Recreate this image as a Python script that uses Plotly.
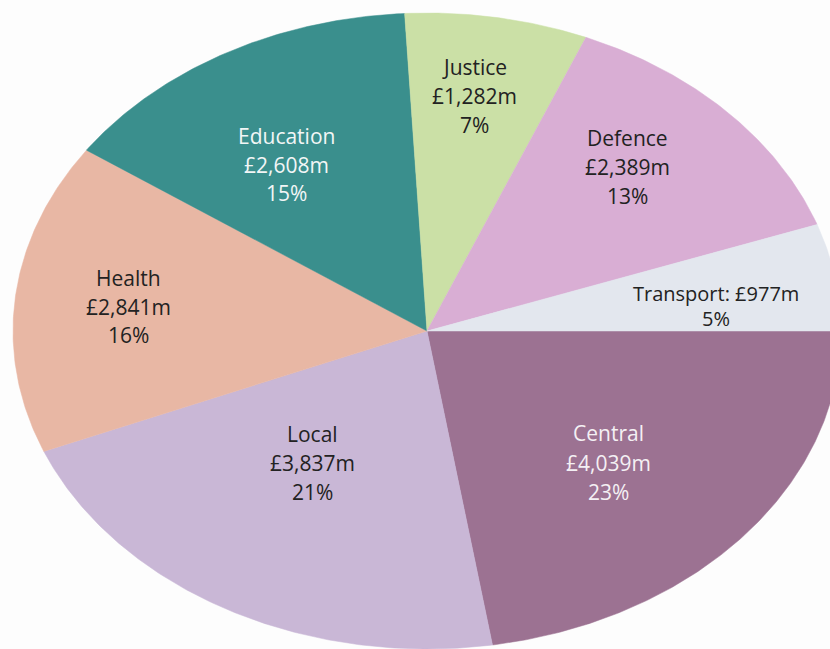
import numpy as np
import plotly.graph_objects as go

# ---- data ----
categories = ["Central", "Local", "Health", "Education", "Justice", "Defence", "Transport"]
values_m = [4039, 3837, 2841, 2608, 1282, 2389, 977]          # £ millions
percent_labels = [23, 21, 16, 15, 7, 13, 5]                    # as printed

# ---- styles ----
colors = ["#9c7292", "#c9b7d6", "#e8b7a4", "#3a8f8d", "#cbe0a6", "#d9aed4", "#e3e7ee"]
text_colors = ["#f4f0f4", "#222222", "#222222", "#f2f6f6", "#222222", "#222222", "#222222"]
# label anchor (pixel centre x, first line y) and line spacing
label_pos = [(608, 433), (312, 434), (128, 278), (286, 136), (474, 67), (627, 138), (716, 293)]
line_gap = [29.5, 29, 28.5, 28.5, 29, 29, 25]

W, H = 830, 649
CX, CY = 427, 331          # ellipse centre in page pixels
RX, RY = 414, 318          # ellipse radii in pixels
START_DEG = 90             # first slice starts at 3 o'clock, clockwise

fig = go.Figure()

vals = np.array(values_m, dtype=float)
frac = vals / vals.sum()
edges = START_DEG + 360 * np.concatenate([[0], np.cumsum(frac)])

for i, name in enumerate(categories):
    a0, a1 = np.radians(edges[i]), np.radians(edges[i + 1])
    n = max(8, int(abs(edges[i + 1] - edges[i]) * 2))
    th = np.linspace(a0, a1, n)
    xs = np.concatenate([[0], RX * np.sin(th), [0]])
    ys = np.concatenate([[0], RY * np.cos(th), [0]])
    fig.add_trace(go.Scatter(
        x=xs, y=ys, mode="lines", fill="toself",
        fillcolor=colors[i], line=dict(color=colors[i], width=0.5),
        hoverinfo="text", text=f"{name}: £{values_m[i]:,}m",
        showlegend=False,
    ))

annotations = []
for i, name in enumerate(categories):
    px, py = label_pos[i]
    if name == "Transport":
        lines = [f"{name}: £{values_m[i]:,}m", f"{percent_labels[i]}%"]
    else:
        lines = [name, f"£{values_m[i]:,}m", f"{percent_labels[i]}%"]
    for k, t in enumerate(lines):
        annotations.append(dict(
            x=px - CX, y=CY - (py + k * line_gap[i]),
            xref="x", yref="y", text=t, showarrow=False,
            xanchor="center", yanchor="middle",
            font=dict(family="Open Sans, Noto Sans, sans-serif", size=21 if name != "Transport" else 20,
                      color=text_colors[i]),
        ))

fig.update_layout(
    width=W, height=H,
    margin=dict(l=0, r=0, t=0, b=0),
    paper_bgcolor="#fdfdfd", plot_bgcolor="#fdfdfd",
    xaxis=dict(range=[-CX, W - CX], visible=False, fixedrange=True),
    yaxis=dict(range=[CY - H, CY], visible=False, fixedrange=True),
    annotations=annotations,
    showlegend=False,
)

fig.write_html("out.html")
